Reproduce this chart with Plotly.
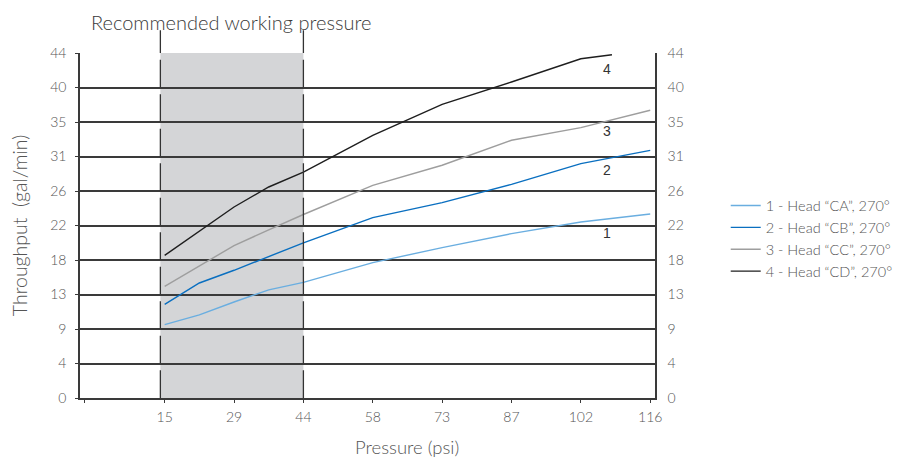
import plotly.graph_objects as go

# ---- data ----
pressure_psi = [14.5, 21.75, 29, 36.25, 43.5, 58, 72.5, 87, 101.5, 116]
pressure_psi_cd = [14.5, 21.75, 29, 36.25, 43.5, 58, 72.5, 87, 101.5, 108]

head_ca = [9.37, 10.6, 12.25, 13.8, 14.75, 17.28, 19.19, 20.98, 22.46, 23.48]
head_cb = [11.95, 14.68, 16.3, 18.05, 19.8, 23.02, 24.93, 27.27, 29.92, 31.61]
head_cc = [14.25, 16.9, 19.45, 21.46, 23.42, 27.14, 29.7, 32.89, 34.51, 36.72]
head_cd = [18.21, 21.3, 24.38, 26.93, 28.84, 33.53, 37.48, 40.33, 43.3, 43.81]

series_names = ["1 - Head “CA”, 270°", "2 - Head “CB”, 270°",
                "3 - Head “CC”, 270°", "4 - Head “CD”, 270°"]
series_labels = ["1", "2", "3", "4"]
label_y = [21.06, 29.06, 34.08, 42.04]
label_x = 106.9

x_tick_labels = ["", "15", "29", "44", "58", "73", "87", "102", "116"]
x_tick_bar = [-0.15, 1, 2, 3, 4, 5, 6, 7, 8]          # bar
y_tick_labels = ["0", "4", "9", "13", "18", "22", "26", "31", "35", "40", "44"]
y_tick_m3h = list(range(11))                              # m³/h

band_psi = [13.6, 43.5]   # recommended working pressure

PSI_PER_BAR = 14.5
GPM_PER_M3H = 4.403
x_tickvals = [b * PSI_PER_BAR for b in x_tick_bar]
y_tickvals = [v * GPM_PER_M3H for v in y_tick_m3h]
y_max = 10 * GPM_PER_M3H

colors = ["#6aaee0", "#0a6fc0", "#9e9e9e", "#1e1e1e"]
FONT = "Lato"
W = 300
TXT = "#555555"
GRID = "#3a3a3a"

# page body has an 8px margin -> compensate
OFF = 8
L, T, R, B = 78 - OFF, 53 - OFF, 252 + OFF, 63 + OFF
PW, PH = 907 - L - R, 461 - T - B

fig = go.Figure()
xs = [pressure_psi, pressure_psi, pressure_psi, pressure_psi_cd]
ys = [head_ca, head_cb, head_cc, head_cd]
for name, x, y, c in zip(series_names, xs, ys, colors):
    fig.add_trace(go.Scatter(x=x, y=y, mode="lines", name=name,
                             line=dict(color=c, width=1.4)))

# invisible trace on right axis
fig.add_trace(go.Scatter(x=[pressure_psi[0]], y=[head_ca[0]], yaxis="y2",
                         mode="lines", showlegend=False, hoverinfo="skip",
                         line=dict(width=0)))

# band + dashed lines
fig.add_shape(type="rect", xref="x", yref="paper", x0=band_psi[0], x1=band_psi[1],
              y0=0, y1=1, fillcolor="#d4d5d7", line=dict(width=0), layer="below")
for xv in band_psi:
    fig.add_shape(type="line", xref="x", yref="paper", x0=xv, x1=xv, y0=0, y1=1.066,
                  line=dict(color="#333333", width=1.3, dash="27.7px,6.8px"), layer="above")

for lab, ly in zip(series_labels, label_y):
    fig.add_annotation(x=label_x, y=ly, text=lab, showarrow=False,
                       font=dict(family="Liberation Sans", size=14, color="#333333"))

# chart heading (page coords: centre x=230)
fig.add_annotation(x=(230 - 78) / PW, y=1 + (53 - 22) / PH, xref="paper", yref="paper",
                   xanchor="center", yanchor="middle",
                   text="Recommended working pressure", showarrow=False,
                   font=dict(family=FONT, size=20, color="#3a3a3a", weight=W))

# x axis title (page coords: centre x=406, y=447)
fig.add_annotation(x=(406 - 78) / PW, y=-(447 - 397.7) / PH, xref="paper", yref="paper",
                   xanchor="center", yanchor="middle", text="Pressure (psi)", showarrow=False,
                   font=dict(family=FONT, size=18.5, color=TXT, weight=W))

axis_common = dict(showline=True, linecolor=GRID, linewidth=1.6, ticks="outside",
                   ticklen=3, tickcolor=GRID,
                   tickfont=dict(family=FONT, size=14, color=TXT, weight=W),
                   zeroline=False)

fig.update_layout(
    width=907, height=461,
    margin=dict(l=L, r=R, t=T, b=B, pad=0),
    plot_bgcolor="white", paper_bgcolor="white",
    showlegend=True,
    legend=dict(x=1.123, xanchor="left", y=0.604, yanchor="top",
                font=dict(family=FONT, size=14.5, color=TXT, weight=W),
                bgcolor="rgba(0,0,0,0)", tracegroupgap=0),
    xaxis=dict(range=[-3.2, 117.0], tickvals=x_tickvals, ticktext=x_tick_labels,
               showgrid=False, ticklabelstandoff=2, **axis_common),
    yaxis=dict(range=[0, y_max], tickvals=y_tickvals, ticktext=y_tick_labels,
               showgrid=True, gridcolor=GRID, gridwidth=1.6, ticklabelstandoff=6,
               title=dict(text="Throughput\u00a0 (gal/min)", standoff=17,
                          font=dict(family=FONT, size=19.5, color=TXT, weight=W)),
               **axis_common),
    yaxis2=dict(range=[0, y_max], tickvals=y_tickvals, ticktext=y_tick_labels,
                overlaying="y", side="right", showgrid=False, showline=True,
                linecolor=GRID, linewidth=1.6, ticks="", zeroline=False,
                ticklabelstandoff=8,
                tickfont=dict(family=FONT, size=14, color=TXT, weight=W)),
)

fig.write_html("out.html")
